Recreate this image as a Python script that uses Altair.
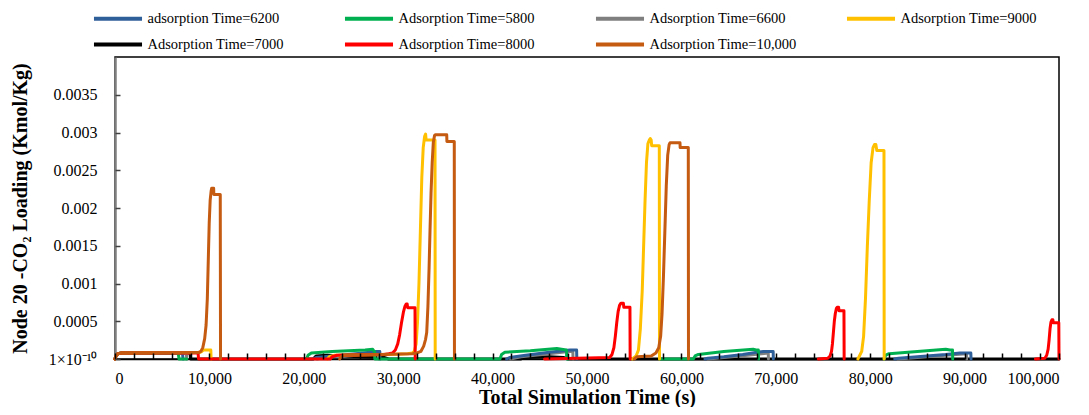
import altair as alt
import pandas as pd

SERIES = ["adsorption Time=6200", "Adsorption Time=5800", "Adsorption Time=6600",
          "Adsorption Time=9000", "Adsorption Time=7000", "Adsorption Time=8000",
          "Adsorption Time=10,000"]
COLORS = ["#2F5F98", "#00B050", "#7F7F7F", "#FFC000", "#000000", "#FF0000", "#C55A11"]

# Total simulation time (s) and Node 20 CO2 loading (kmol/kg); None separates segments
T6200 = [0, 100, 300, 700, 7150, 7200, None,
         21000, 21300, 23000, 25500, 27000, 27700, 28050, 28070, None,
         41490, 41800, 43500, 46000, 47500, 48200, 48900, 48920, None,
         62500, 62800, 64500, 66500, 68000, 68680, 69720, 69740, None,
         82600, 83000, 85000, 88000, 89500, 90660, 90680]
L6200 = [0, 0.00004, 0.00007, 0.00008, 0.00008, 0, None,
         0, 0.00002, 0.00004, 0.00007, 0.00009, 0.0001, 0.0001, 0, None,
         0, 0.00002, 0.00005, 0.00009, 0.00011, 0.00012, 0.00012, 0, None,
         0, 0.00001, 0.00003, 0.00006, 0.00009, 0.0001, 0.0001, 0, None,
         0, 0.00001, 0.00003, 0.00006, 0.00008, 0.00008, 0]

T5800 = [0, 100, 300, 700, 6700, 6780, 7600, None,
         20300, 20450, 20800, 23000, 26500, 27300, 27400, 27500, 27520, 40780, 40950, 41300,
         44000, 46800, 47300, 47830, 47850, 48000, None,
         57700, 61260, 61450, 61800, 64500, 67600, 67900, 68150, 68170, None,
         81460, 81650, 82000, 85000, 88000, 88450, 88720, 88740]
L5800 = [0, 0.00004, 0.00007, 0.00008, 0.00008, 0, 0, None,
         0, 0.00005, 0.00008, 0.0001, 0.00012, 0.00013, 0.00011, 0.0001, 0, 0, 0.00006, 0.00009,
         0.00011, 0.00014, 0.00013, 0.00012, 0, 0, None,
         0, 0, 0.00004, 0.00006, 0.0001, 0.00013, 0.00012, 0.00012, 0, None,
         0, 0.00005, 0.00007, 0.0001, 0.00013, 0.00012, 0.00012, 0]

T6600 = [0, 100, 300, 700, 7550, 7600, None,
         21400, 22000, 25000, 27500, 27900, 27920, None,
         41900, 43000, 46000, 48000, 48500, 48520, None,
         62800, 64500, 67000, 69200, 69220, None,
         82900, 85000, 88000, 90200, 90220]
L6600 = [0, 0.00004, 0.00007, 0.00008, 0.00008, 0, None,
         0, 0.00002, 0.00005, 0.00008, 0.00008, 0, None,
         0, 0.00003, 0.00007, 0.0001, 0.0001, 0, None,
         0, 0.00002, 0.00005, 0.00008, 0, None,
         0, 0.00002, 0.00005, 0.00007, 0]

T9000 = [0, 100, 300, 700, 9000, 9200, 9400, 10150, 10180, None,
         22500, 22700, 23300, 29000, 31000, 31500, 31700, 31900, 32050, 32200, 32350, 32500,
         32650, 32800, 32900, 32960, 33900, 33920, None,
         54800, 55200, 55450, 55650, 55850, 56000, 56150, 56300, 56450, 56600, 56700, 56800,
         56850, 57660, 57680, None,
         78700, 79100, 79300, 79500, 79700, 79900, 80100, 80300, 80450, 80600, 80700, 81460, 81480]
L9000 = [0, 0.00004, 0.00007, 0.00008, 0.000085, 0.0001, 0.00012, 0.00012, 0, None,
         0, 0.00003, 0.00005, 0.00006, 0.00007, 0.00008, 0.0001, 0.0002, 0.0005, 0.001, 0.0017, 0.0024,
         0.0028, 0.00295, 0.00298, 0.0029, 0.0029, 0, None,
         0, 0.00004, 0.00012, 0.0004, 0.0009, 0.0015, 0.0021, 0.0026, 0.00285, 0.0029, 0.00292, 0.0029,
         0.002825, 0.002825, 0, None,
         0, 0.0001, 0.0003, 0.0008, 0.0015, 0.0021, 0.0026, 0.0028, 0.00284, 0.00284, 0.00276, 0.00276, 0]

T7000 = [0, 100, 300, 700, 7950, 8000, 21000, 21300, 22500, 24000, 26000, 28500, 29000,
         43000, 43300, 46000, 47500, 48000, 100000]
L7000 = [0, 0.00004, 0.00007, 0.00008, 0.00008, 0, 0, 0.00004, 0.00005, 0.00004, 0.00003, 0.00002, 0,
         0, 0.00002, 0.00003, 0.00002, 0, 0]

T8000 = [0, 100, 300, 700, 8800, 8850, 22800, 23000, 23500, 28500, 29000, 29400, 29700, 29950,
         30150, 30350, 30550, 30720, 30850, 30950, 31000, 31780, 31800, None,
         45500, 52400, 52650, 52850, 53000, 53150, 53300, 53450, 53600, 53850, 53900, 54550, 54570, None,
         74500, 75500, 75750, 75900, 76000, 76100, 76200, 76300, 76420, 76500, 76650, 76700, 77220, 77240, None,
         97500, 98500, 98700, 98850, 98950, 99050, 99150, 99250, 99350, 99400, 99980, 100000]
L8000 = [0, 0.00004, 0.00007, 0.00008, 0.00008, 0, 0, 0.00003, 0.00005, 0.00006, 0.00007, 0.00008, 0.00012, 0.0002,
         0.00032, 0.00048, 0.00062, 0.0007, 0.00073, 0.00073, 0.00068, 0.00068, 0, None,
         0, 0.00002, 0.00006, 0.00015, 0.0003, 0.00048, 0.00063, 0.00071, 0.00074, 0.00074, 0.000685, 0.000685, 0, None,
         0, 0.00001, 0.00004, 0.0001, 0.0002, 0.00035, 0.0005, 0.0006, 0.00067, 0.000685, 0.000685, 0.00064, 0.00064, 0, None,
         0, 0.00001, 0.00005, 0.00013, 0.00025, 0.0004, 0.00049, 0.00052, 0.00052, 0.00048, 0.00048, 0]

T10000 = [0, 100, 300, 700, 8800, 9100, 9300, 9500, 9650, 9780, 9880, 9980, 10080, 10180, 10240,
          10450, 10470, 11150, 11180, None,
          23800, 23950, 24300, 28000, 31500, 32000, 32400, 32700, 32900, 33020, 33150, 33270, 33370,
          33480, 33600, 33720, 33850, 33950, 35140, 35160, 35940, 35960, None,
          55000, 55300, 56800, 57300, 57600, 57800, 57950, 58100, 58250, 58400, 58550, 58700, 58800,
          59850, 59870, 60730, 60750]
L10000 = [0, 0.00004, 0.00007, 0.00008, 0.000085, 0.0001, 0.00015, 0.00027, 0.00045, 0.0008, 0.0013, 0.0018, 0.0021, 0.00222, 0.00226,
          0.00226, 0.00218, 0.00218, 0, None,
          0, 0.00003, 0.00005, 0.00006, 0.00007, 0.00008, 0.0001, 0.00017, 0.00026, 0.00035, 0.0007, 0.0012, 0.0017,
          0.0022, 0.0026, 0.00287, 0.00296, 0.00297, 0.00297, 0.00288, 0.00288, 0, None,
          0, 0.00003, 0.00004, 0.00008, 0.00015, 0.0003, 0.0006, 0.0011, 0.0017, 0.0023, 0.0027, 0.00284, 0.002865,
          0.002865, 0.0028, 0.0028, 0]

DATA = {
    SERIES[0]: (T6200, L6200),
    SERIES[1]: (T5800, L5800),
    SERIES[2]: (T6600, L6600),
    SERIES[3]: (T9000, L9000),
    SERIES[4]: (T7000, L7000),
    SERIES[5]: (T8000, L8000),
    SERIES[6]: (T10000, L10000),
}
# z-order of drawing, bottom to top
DRAW_ORDER = [SERIES[4], SERIES[2], SERIES[0], SERIES[1], SERIES[3], SERIES[5], SERIES[6]]

X_LABEL_VALUES = [0, 10000, 20000, 30000, 40000, 50000, 60000, 70000, 80000, 90000, 100000]
X_MINOR_VALUES = list(range(0, 100001, 2000))
Y_VALUES = [0, 0.0005, 0.001, 0.0015, 0.002, 0.0025, 0.003, 0.0035]


def frame(name):
    ts, ls = DATA[name]
    rows, seg, i = [], 0, 0
    for t, l in zip(ts, ls):
        if t is None:
            seg += 1
            continue
        rows.append({"series": name, "seg": f"{name}-{seg}", "t": t, "v": l, "i": i})
        i += 1
    return pd.DataFrame(rows)


SERIF = "Liberation Serif"
LEG_FS = 14.5
color = alt.Color(
    "series:N",
    scale=alt.Scale(domain=SERIES, range=COLORS),
    legend=alt.Legend(
        title=None, orient="none", legendX=-14.5, legendY=-56, columns=4,
        direction="horizontal", gridAlign="all", symbolType="M-1.55,0H1.55",
        symbolSize=961, symbolStrokeWidth=4, labelFont=SERIF, labelFontSize=LEG_FS,
        labelColor="#000", labelOffset=12, labelLimit=400, columnPadding=41,
        rowPadding=0, padding=0,
    ),
)
xenc = alt.X(
    "t:Q", scale=alt.Scale(domain=[0, 100000], nice=False, zero=False),
    axis=alt.Axis(values=X_LABEL_VALUES, labelExpr="format(datum.value, ',')", ticks=False,
                  grid=False, domainColor="#000", domainWidth=1.5, labelFont=SERIF,
                  labelFontSize=16, labelColor="#000", labelPadding=11,
                  title="Total Simulation Time (s)", titleFont=SERIF, titleFontSize=20,
                  titleFontWeight="bold", titleColor="#000", titleY=44,
                  titleBaseline="alphabetic"),
)
yenc = alt.Y(
    "v:Q", scale=alt.Scale(domain=[0, 0.004], nice=False, zero=False),
    axis=alt.Axis(values=Y_VALUES, ticks=False, grid=False,
                  labelExpr="datum.value < 1e-9 ? '1×10⁻¹⁰' : format(datum.value, '~g')",
                  domainColor="#7F7F7F", domainWidth=2.5, labelFont=SERIF, labelFontSize=16,
                  labelColor="#000", labelPadding=18,
                  title="Node 20 -CO₂ Loading (Kmol/Kg)", titleFont=SERIF, titleFontSize=20,
                  titleFontWeight="bold", titleColor="#000", titleX=-95, titleY=151,
                  titleAngle=270, titleBaseline="middle", titleAlign="center"),
)

line_layers = []
for name in DRAW_ORDER:
    line_layers.append(
        alt.Chart(frame(name)).mark_line(strokeWidth=3, strokeJoin="round", strokeCap="round").encode(
            x=xenc, y=yenc, color=color, detail="seg:N", order="i:Q"
        )
    )
lines = alt.layer(*line_layers)

tick_df = pd.DataFrame({"t": [0, 100000], "v": [0, 0.004]})
ticks = alt.Chart(tick_df).mark_point(opacity=0).encode(
    x=alt.X("t:Q", scale=alt.Scale(domain=[0, 100000], nice=False, zero=False),
            axis=alt.Axis(orient="bottom", values=X_MINOR_VALUES, labels=False, domain=False,
                          grid=False, ticks=True, tickSize=6, tickWidth=1.5, tickColor="#000",
                          offset=-6, title=None, zindex=1)),
    y=alt.Y("v:Q", scale=alt.Scale(domain=[0, 0.004], nice=False, zero=False),
            axis=alt.Axis(orient="left", values=Y_VALUES, labels=False, domain=False,
                          grid=False, ticks=True, tickSize=5, tickWidth=1.5, tickColor="#404040",
                          offset=-5, title=None, zindex=1)),
)

chart = alt.layer(lines, ticks).resolve_axis(x="independent", y="independent").properties(
    width=944, height=302,
    autosize=alt.AutoSizeParams(type="none"),
    padding={"left": 107, "top": 49, "right": 20, "bottom": 48},
).configure_view(stroke="#000", strokeWidth=1.5).configure_legend(
    labelFontSize=LEG_FS, labelFont=SERIF
)

chart.save("out.html", embed_options={"renderer": "svg", "actions": False})
